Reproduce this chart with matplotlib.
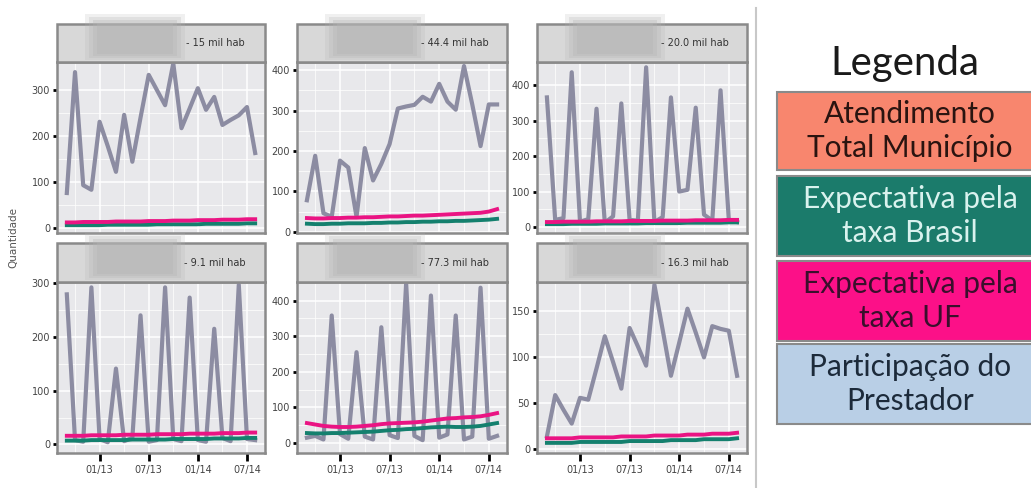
import matplotlib
matplotlib.use("Agg")
import matplotlib.pyplot as plt
from matplotlib.patches import Rectangle
from matplotlib.lines import Line2D

# monthly series, 09/12 .. 08/14
months = ["09/12", "10/12", "11/12", "12/12", "01/13", "02/13", "03/13", "04/13",
          "05/13", "06/13", "07/13", "08/13", "09/13", "10/13", "11/13", "12/13",
          "01/14", "02/14", "03/14", "04/14", "05/14", "06/14", "07/14", "08/14"]
xtick_labels = ["01/13", "07/13", "01/14", "07/14"]
minor_labels = ["10/12", "04/13", "10/13", "04/14"]

strip_labels = ["- 15 mil hab", "- 44.4 mil hab", "- 20.0 mil hab",
                "- 9.1 mil hab", "- 77.3 mil hab", "- 16.3 mil hab"]

# Atendimento total municipio (grey line)
atend_1 = [76, 339, 93, 83, 231, 178, 122, 246, 144, 240, 333, 300,
           267, 358, 217, 260, 304, 257, 285, 224, 235, 245, 263, 163]
atend_2 = [78, 188, 46, 37, 176, 159, 37, 207, 127, 168, 217, 305,
           310, 314, 334, 322, 366, 322, 302, 410, 315, 212, 315, 315]
atend_3 = [366, 20, 25, 437, 15, 22, 334, 12, 30, 349, 20, 18,
           451, 14, 28, 366, 100, 105, 337, 35, 18, 386, 20, 14]
atend_4 = [279, 8, 5, 292, 10, 4, 141, 6, 12, 240, 5, 8,
           292, 10, 6, 273, 8, 5, 215, 12, 6, 297, 10, 8]
atend_5 = [15, 20, 10, 358, 25, 12, 255, 18, 10, 325, 22, 14,
           448, 20, 8, 414, 15, 24, 358, 10, 18, 436, 12, 20]
atend_6 = [14, 59, 43, 28, 56, 54, 88, 123, 95, 66, 132, 112,
           91, 179, 130, 80, 116, 153, 127, 100, 134, 131, 129, 80]

# Expectativa pela taxa Brasil (teal)
brasil_1 = [6, 6, 6, 6, 6, 7, 7, 7, 7, 7, 7, 8, 8, 8, 8, 8, 8, 9, 9, 9, 9, 9, 10, 10]
brasil_2 = [20, 19, 19, 20, 20, 21, 21, 21, 22, 22, 23, 23,
            24, 24, 25, 25, 26, 26, 27, 27, 28, 29, 30, 32]
brasil_3 = [8, 8, 8, 9, 9, 9, 9, 10, 10, 10, 10, 10, 11, 11, 11, 11, 11, 12, 12, 12, 12, 12, 13, 13]
brasil_4 = [7, 7, 7, 8, 8, 8, 8, 8, 9, 9, 9, 9, 9, 10, 10, 10, 10, 10, 11, 11, 11, 11, 12, 12]
brasil_5 = [28, 27, 27, 28, 28, 29, 30, 31, 32, 34, 36, 37,
            39, 40, 42, 44, 45, 46, 45, 45, 46, 48, 52, 56]
brasil_6 = [7, 7, 7, 7, 8, 8, 8, 8, 8, 8, 9, 9, 9, 9, 9, 10, 10, 10, 10, 11, 11, 11, 11, 12]

# Expectativa pela taxa UF (pink)
uf_1 = [12, 12, 13, 13, 13, 13, 14, 14, 14, 14, 15, 15, 15, 16, 16, 16, 17, 17, 17, 18, 18, 18, 19, 19]
uf_2 = [34, 33, 33, 34, 34, 35, 35, 36, 36, 37, 38, 38,
        39, 40, 40, 41, 42, 43, 44, 45, 46, 47, 50, 56]
uf_3 = [14, 14, 15, 15, 15, 15, 16, 16, 16, 16, 17, 17, 17, 17, 18, 18, 18, 18, 19, 19, 19, 19, 20, 20]
uf_4 = [16, 16, 16, 17, 17, 17, 17, 18, 18, 18, 18, 19, 19, 19, 19, 20, 20, 20, 20, 21, 21, 21, 22, 22]
uf_5 = [56, 52, 48, 46, 45, 45, 46, 48, 50, 53, 55, 56,
        57, 58, 60, 63, 66, 69, 70, 72, 73, 75, 79, 84]
uf_6 = [12, 12, 12, 12, 13, 13, 13, 13, 13, 14, 14, 14, 14, 15, 15, 15, 15, 16, 16, 16, 17, 17, 17, 18]

yticks = [[0, 100, 200, 300], [0, 100, 200, 300, 400], [0, 100, 200, 300, 400],
          [0, 100, 200, 300], [0, 100, 200, 300, 400], [0, 50, 100, 150]]
ylims = [(-11, 361), (-3, 420), (-17, 466), (-16, 302), (-28, 452), (-4, 182)]

legend_labels = ["Atendimento\nTotal Município", "Expectativa pela\ntaxa Brasil",
                 "Expectativa pela\ntaxa UF", "Participação do\nPrestador"]

atend = [atend_1, atend_2, atend_3, atend_4, atend_5, atend_6]
brasil = [brasil_1, brasil_2, brasil_3, brasil_4, brasil_5, brasil_6]
uf = [uf_1, uf_2, uf_3, uf_4, uf_5, uf_6]

W, H = 1031, 488
fig = plt.figure(figsize=(W / 100, H / 100), dpi=100)


def box(x0, y0, x1, y1):
    # pixel box (top-left origin) -> figure fraction rect
    return [x0 / W, 1 - y1 / H, (x1 - x0) / W, (y1 - y0) / H]


cols = [(57, 265), (297, 507), (537, 747)]
rows = [((24, 62), (62, 233)), ((243, 282), (282, 453))]

x = list(range(len(months)))
major = [months.index(m) for m in xtick_labels]
minor = [months.index(m) for m in minor_labels]

grey = "#8c8ca2"
teal = "#14806e"
pink = "#ea1483"

for k in range(6):
    r, c = divmod(k, 3)
    (sx0, sx1) = cols[c]
    (st, sb), (pt, pb) = rows[r]

    ax = fig.add_axes(box(sx0, pt, sx1, pb))
    ax.set_facecolor("#e8e8eb")
    ax.plot(x, atend[k], color=grey, lw=3.0, zorder=3)
    ax.plot(x, brasil[k], color=teal, lw=2.8, zorder=4)
    ax.plot(x, uf[k], color=pink, lw=2.8, zorder=5)
    ax.set_xlim(-1.2, len(months) - 1 + 1.2)
    ax.set_ylim(*ylims[k])
    ax.set_yticks(yticks[k])
    ax.set_yticks([(a + b) / 2 for a, b in zip(yticks[k][:-1], yticks[k][1:])], minor=True)
    ax.set_xticks(major)
    ax.set_xticks(minor, minor=True)
    ax.grid(True, which="major", color="white", lw=1.1)
    ax.grid(True, which="minor", color="white", lw=0.5)
    ax.set_axisbelow(True)
    for s in ax.spines.values():
        s.set_color("#8a8a8a")
        s.set_linewidth(1.8)
    ax.tick_params(axis="y", which="major", length=3, width=2, color="black",
                   labelsize=7, labelcolor="#444444", pad=2)
    ax.tick_params(which="minor", length=0)
    if r == 1:
        ax.set_xticklabels(xtick_labels)
        ax.tick_params(axis="x", which="major", length=6, width=2, color="black",
                       labelsize=7, labelcolor="#444444", pad=3)
    else:
        ax.tick_params(axis="x", which="major", length=0, labelbottom=False)

    # strip
    fig.patches.append(Rectangle((sx0 / W, 1 - sb / H), (sx1 - sx0) / W, (sb - st) / H,
                                 transform=fig.transFigure, facecolor="#d8d8d8",
                                 edgecolor="#8a8a8a", lw=1.8, zorder=1))
    # blurred (anonymised) name block
    for i, a in enumerate([0.2, 0.25, 0.3, 0.35]):
        bx0, bx1 = sx0 + 28 + 4 * i, sx0 + 128 - 4 * i
        by0, by1 = st - 10 + 3 * i, sb - 2 - 2 * i
        fig.patches.append(Rectangle((bx0 / W, 1 - by1 / H), (bx1 - bx0) / W, (by1 - by0) / H,
                                     transform=fig.transFigure, facecolor="#b4b4b4",
                                     edgecolor="none", alpha=a, zorder=2))
    fig.text((sx0 + 158) / W, 1 - (st + sb) / 2 / H, strip_labels[k], fontsize=7,
             color="#333333", ha="center", va="center", zorder=3)

fig.text(13 / W, 1 - 237 / H, "Quantidade", rotation=90, fontsize=7.5,
         color="#555555", ha="center", va="center")

# separator
fig.lines.append(Line2D([756 / W, 756 / W], [0, 1 - 8 / H], transform=fig.transFigure,
                        color="#c8c8c8", lw=1.5))

# legend panel
fig.text(905 / W, 1 - 64 / H, "Legenda", fontsize=29, family="Lato",
         color="#1a1a1a", ha="center", va="center")
legend_colors = ["#f8866e", "#1b7b6b", "#fc1088", "#b9cfe6"]
legend_text_colors = ["#2a1410", "#d9f2ee", "#3a0f2c", "#1c2a3a"]
legend_rows = [(92, 170), (176, 256), (261, 341), (344, 424)]
for lab, fc, tc, (y0, y1) in zip(legend_labels, legend_colors, legend_text_colors, legend_rows):
    fig.patches.append(Rectangle((777 / W, 1 - y1 / H), (1045 - 777) / W, (y1 - y0) / H,
                                 transform=fig.transFigure, facecolor=fc,
                                 edgecolor="#8a8a8a", lw=1.5))
    fig.text(910 / W, 1 - (y0 + y1) / 2 / H, lab, fontsize=21.5, family="Lato",
             color=tc, ha="center", va="center", linespacing=1.25)

fig.savefig("out.png", dpi=100)
